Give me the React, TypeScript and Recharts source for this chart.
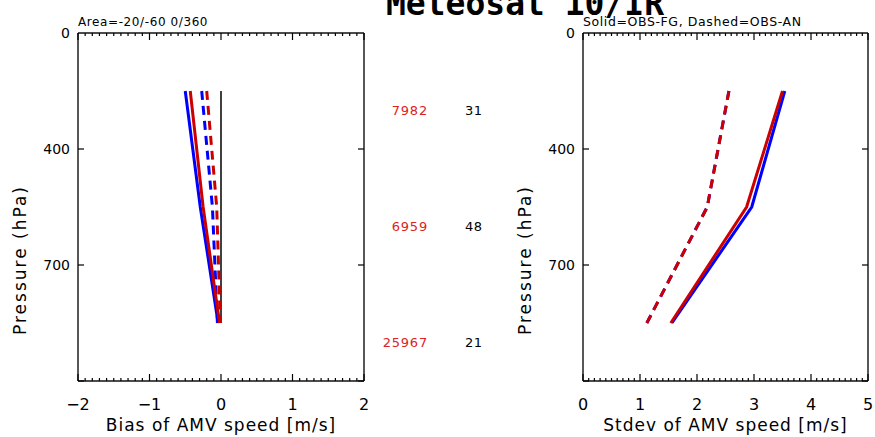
import React from 'react';
import { LineChart, Line, XAxis, YAxis } from 'recharts';

// Pressure levels (hPa) at which the layer statistics are plotted
const pressureLevels = [200, 550, 850];

// Bias of AMV speed (m/s)
const biasFgBlue = [-0.5, -0.29, -0.04];
const biasFgRed = [-0.43, -0.25, -0.02];
const biasAnBlue = [-0.27, -0.12, -0.05];
const biasAnRed = [-0.2, -0.06, -0.01];
const biasZero = [0, 0, 0];

// Standard deviation of AMV speed (m/s)
const stdevFgBlue = [3.54, 2.96, 1.56];
const stdevFgRed = [3.5, 2.87, 1.54];
const stdevAnBlue = [2.56, 2.18, 1.12];
const stdevAnRed = [2.56, 2.18, 1.12];

// Per-layer counts
const obsCounts = [7982, 6959, 25967];
const otherCounts = [31, 48, 21];

// Pressure axis layer boundaries and labels
const pressureBounds = [0, 400, 700, 1000];
const pressureLabels = ['0', '400', '700', ''];

const biasMajor = [-2, -1, 0, 1, 2];
const stdevMajor = [0, 1, 2, 3, 4, 5];

const CHART_H = 437;
const PLOT_TOP = 33;
const MARGIN_BOTTOM = 56;
const PLOT_BOTTOM = CHART_H - MARGIN_BOTTOM;
const FONT = '"DejaVu Sans", sans-serif';
const BLUE = '#0000ff';
const RED = '#cc0000';

// Each layer between pressure bounds occupies an equal share of the axis
const toLayerAxis = (p: number) => {
  for (let i = 0; i < pressureBounds.length - 1; i++) {
    if (p <= pressureBounds[i + 1]) {
      return i + (p - pressureBounds[i]) / (pressureBounds[i + 1] - pressureBounds[i]);
    }
  }
  return pressureBounds.length - 1;
};

const rows = pressureLevels.map((p, i) => ({
  lev: toLayerAxis(p),
  biasFgBlue: biasFgBlue[i],
  biasFgRed: biasFgRed[i],
  biasAnBlue: biasAnBlue[i],
  biasAnRed: biasAnRed[i],
  biasZero: biasZero[i],
  stdevFgBlue: stdevFgBlue[i],
  stdevFgRed: stdevFgRed[i],
  stdevAnBlue: stdevAnBlue[i],
  stdevAnRed: stdevAnRed[i],
}));

const minorTicks = (lo: number, hi: number) => {
  const out: number[] = [];
  for (let k = Math.round(lo * 10); k <= Math.round(hi * 10); k++) out.push(k / 10);
  return out;
};

const fmt = (v: number) => (v < 0 ? '\u2212' + Math.abs(v) : String(v));

type SeriesDef = { key: string; color: string; dashed?: boolean; width?: number };

type PanelProps = {
  width: number;
  left: number;
  right: number;
  domain: [number, number];
  title: string;
  series: SeriesDef[];
};

function Panel({ width, left, right, domain, title, series }: PanelProps) {
  const plotLeft = left;
  const plotRight = width - right;
  const ticks = minorTicks(domain[0], domain[1]);
  const isMajor = (v: number) => Math.abs(v - Math.round(v)) < 1e-6;

  const BottomTick = (props: any) => {
    const { x, payload } = props;
    const v = payload.value;
    const major = isMajor(v);
    return (
      <g>
        <line x1={x} x2={x} y1={PLOT_BOTTOM} y2={PLOT_BOTTOM - (major ? 7 : 3)} stroke="#000" strokeWidth={1.2} />
        {major && (
          <text x={x} y={PLOT_BOTTOM + 29} textAnchor="middle" fontFamily={FONT} fontSize={16} fill="#000">
            {fmt(Math.round(v))}
          </text>
        )}
      </g>
    );
  };

  const TopTick = (props: any) => {
    const { x, payload } = props;
    const major = isMajor(payload.value);
    return (
      <line x1={x} x2={x} y1={PLOT_TOP} y2={PLOT_TOP + (major ? 7 : 3)} stroke="#000" strokeWidth={1.2} />
    );
  };

  const LeftTick = (props: any) => {
    const { y, index } = props;
    return (
      <g>
        {index > 0 && <line x1={plotLeft} x2={plotLeft + 6} y1={y} y2={y} stroke="#000" strokeWidth={1.2} />}
        <text x={plotLeft - 8} y={y + 5} textAnchor="end" fontFamily={FONT} fontSize={14} fill="#000">
          {pressureLabels[index]}
        </text>
      </g>
    );
  };

  const RightTick = (props: any) => {
    const { y, index } = props;
    if (index === 0) return <g />;
    return <line x1={plotRight} x2={plotRight - 6} y1={y} y2={y} stroke="#000" strokeWidth={1.2} />;
  };

  const layerTicks = pressureBounds.map((_, i) => i);
  const yDomain: [number, number] = [0, pressureBounds.length - 1];
  const axisLine = { stroke: '#111', strokeWidth: 1.4 };
  const titleX = plotLeft - 52;
  const titleY = 260;

  return (
    <LineChart
      width={width}
      height={CHART_H}
      data={rows}
      layout="vertical"
      margin={{ top: 0, bottom: 0, left: 0, right: 0 }}
    >
      <XAxis
        type="number"
        domain={domain}
        ticks={ticks}
        interval={0}
        height={MARGIN_BOTTOM}
        tickLine={false}
        axisLine={axisLine}
        tick={<BottomTick />}
        allowDataOverflow
      />
      <XAxis
        xAxisId="top"
        orientation="top"
        type="number"
        domain={domain}
        ticks={ticks}
        interval={0}
        height={PLOT_TOP}
        tickLine={false}
        axisLine={axisLine}
        tick={<TopTick />}
        allowDataOverflow
      />
      <YAxis
        type="number"
        dataKey="lev"
        domain={yDomain}
        ticks={layerTicks}
        interval={0}
        width={left}
        tickLine={false}
        axisLine={axisLine}
        tick={<LeftTick />}
        allowDataOverflow
      />
      <YAxis
        yAxisId="right"
        orientation="right"
        type="number"
        dataKey="lev"
        domain={yDomain}
        ticks={layerTicks}
        interval={0}
        width={right}
        tickLine={false}
        axisLine={axisLine}
        tick={<RightTick />}
        allowDataOverflow
      />
      {series.map((s) => (
        <Line
          key={s.key}
          dataKey={s.key}
          stroke={s.color}
          strokeWidth={s.width ?? 3}
          strokeDasharray={s.dashed ? '9 6' : undefined}
          dot={false}
          activeDot={false}
          isAnimationActive={false}
        />
      ))}
      <text
        x={titleX}
        y={titleY}
        transform={`rotate(-90 ${titleX} ${titleY})`}
        textAnchor="middle"
        fontFamily={FONT}
        fontSize={17}
        letterSpacing={2}
        fill="#000"
      >
        Pressure (hPa)
      </text>
      <text
        x={(plotLeft + plotRight) / 2}
        y={431}
        textAnchor="middle"
        fontFamily={FONT}
        fontSize={17}
        letterSpacing={1}
        fill="#000"
      >
        {title}
      </text>
    </LineChart>
  );
}

const biasSeries: SeriesDef[] = [
  { key: 'biasZero', color: '#000', width: 1.5 },
  { key: 'biasFgBlue', color: BLUE },
  { key: 'biasAnBlue', color: BLUE, dashed: true },
  { key: 'biasFgRed', color: RED },
  { key: 'biasAnRed', color: RED, dashed: true },
];

const stdevSeries: SeriesDef[] = [
  { key: 'stdevFgBlue', color: BLUE },
  { key: 'stdevAnBlue', color: BLUE, dashed: true },
  { key: 'stdevFgRed', color: RED },
  { key: 'stdevAnRed', color: RED, dashed: true },
];

export default function App() {
  const layerH = (PLOT_BOTTOM - PLOT_TOP) / (pressureBounds.length - 1);
  return (
    <div
      style={{
        position: 'absolute',
        left: 0,
        top: 0,
        width: 875,
        height: CHART_H,
        background: '#fff',
        overflow: 'hidden',
      }}
    >
      <div style={{ position: 'absolute', left: 0, top: 0 }}>
        <Panel width={440} left={78} right={76} domain={[biasMajor[0], biasMajor[biasMajor.length - 1]]} title="Bias of AMV speed [m/s]" series={biasSeries} />
      </div>
      <div style={{ position: 'absolute', left: 440, top: 0 }}>
        <Panel width={435} left={143} right={7} domain={[stdevMajor[0], stdevMajor[stdevMajor.length - 1]]} title="Stdev of AMV speed [m/s]" series={stdevSeries} />
      </div>
      <svg
        width={875}
        height={CHART_H}
        style={{ position: 'absolute', left: 0, top: 0, pointerEvents: 'none' }}
      >
        <text x={525} y={15} textAnchor="middle" fontFamily='"DejaVu Sans Mono", monospace' fontWeight="bold" fontSize={33} fill="#000">
          Meteosat 10/IR
        </text>
        <text x={78} y={26} fontFamily={FONT} fontSize={12} letterSpacing={0.6} fill="#000">
          Area=-20/-60 0/360
        </text>
        <text x={583} y={26} fontFamily={FONT} fontSize={12.5} letterSpacing={0.6} fill="#000">
          Solid=OBS-FG, Dashed=OBS-AN
        </text>
        {obsCounts.map((c, i) => (
          <text key={'o' + i} x={428} y={PLOT_TOP + (i + 0.66) * layerH + 5} textAnchor="end" fontFamily={FONT} fontSize={13} letterSpacing={0.8} fill="#dd2222">
            {c}
          </text>
        ))}
        {otherCounts.map((c, i) => (
          <text key={'c' + i} x={465} y={PLOT_TOP + (i + 0.66) * layerH + 5} fontFamily={FONT} fontSize={13} letterSpacing={0.5} fill="#000">
            {c}
          </text>
        ))}
      </svg>
    </div>
  );
}
